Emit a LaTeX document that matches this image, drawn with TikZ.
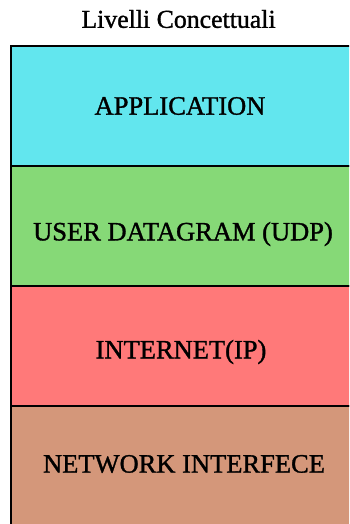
\documentclass[tikz,border=0pt]{standalone}
\usepackage{fontspec}
\setmainfont{Liberation Serif}
\newfontfamily\heavyserif[FakeBold=1.2]{Liberation Serif}
\definecolor{appcol}{HTML}{62E6EE}
\definecolor{udpcol}{HTML}{86D977}
\definecolor{ipcol}{HTML}{FF7979}
\definecolor{netcol}{HTML}{D4977A}
\tikzset{
  layer/.style={draw=black, line width=1.6pt},
  layertext/.style={font=\heavyserif\fontsize{26.5}{30}\selectfont, inner sep=0pt, anchor=center},
  titletext/.style={font=\heavyserif\fontsize{25.8}{30}\selectfont, inner sep=0pt, anchor=center}
}
\begin{document}
\begin{tikzpicture}[x=1pt, y=-1pt]
  \useasboundingbox (0,0) rectangle (349,524);
  \begin{scope}
    \clip (0,0) rectangle (349,524);
    \draw[layer, fill=appcol] (11,46) rectangle (360,166);
    \draw[layer, fill=udpcol] (11,166) rectangle (360,286);
    \draw[layer, fill=ipcol]  (11,286) rectangle (360,406);
    \draw[layer, fill=netcol] (11,406) rectangle (360,540);
  \end{scope}
  \node[titletext] (title) at (178.5,19) {Livelli Concettuali};
  \node[layertext] (app) at (180,106) {APPLICATION};
  \node[layertext] (udp) at (183,234) {USER DATAGRAM (UDP)};
  \node[layertext] (ip)  at (181,352) {INTERNET(IP)};
  \node[layertext] (net) at (184,464) {NETWORK INTERFECE};
\end{tikzpicture}
\end{document}
